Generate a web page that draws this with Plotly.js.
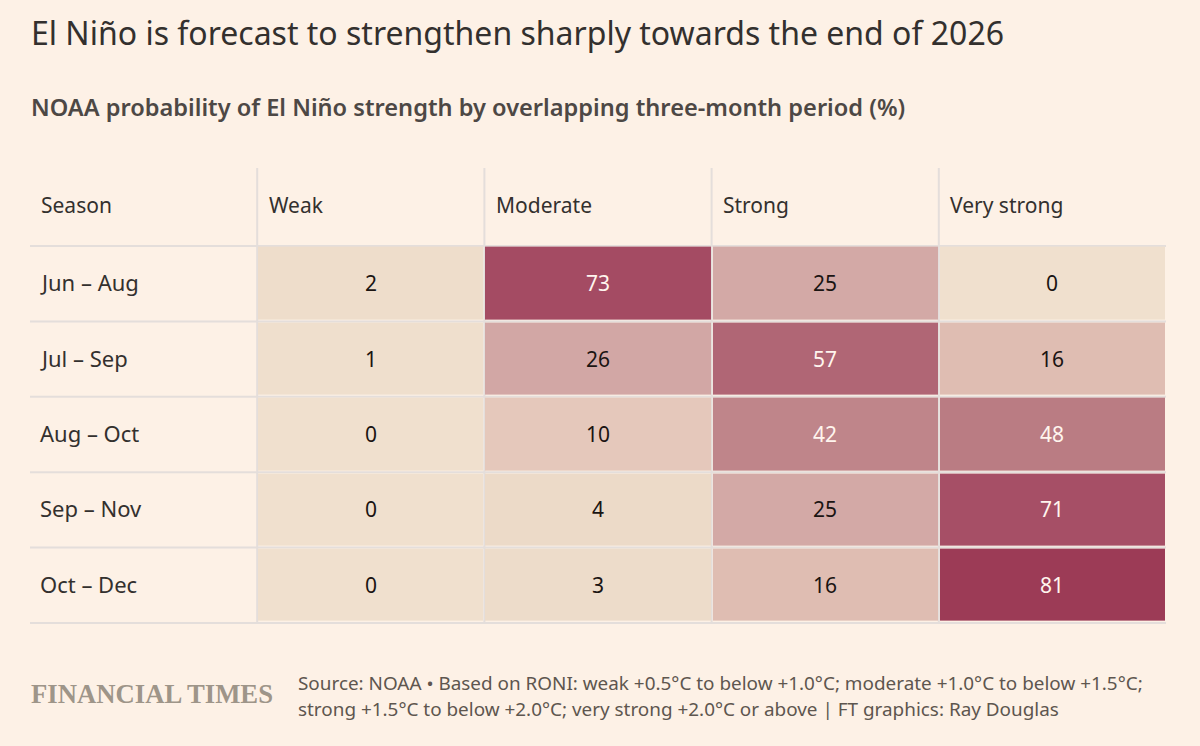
<!DOCTYPE html>
<html><head><meta charset="utf-8">
<script src="https://cdn.plot.ly/plotly-3.0.1.min.js"></script>
<style>html,body{margin:0;padding:0;background:#FDF1E6;overflow:hidden}</style></head>
<body><div id="chart" style="width:1200px;height:746px"></div>
<script>
const seasonHeader = "Season";
const strengths = ["Weak","Moderate","Strong","Very strong"];
const seasons = ["Jun – Aug","Jul – Sep","Aug – Oct","Sep – Nov","Oct – Dec"];
const weak = [2,1,0,0,0];
const moderate = [73,26,10,4,3];
const strong = [25,57,42,25,16];
const veryStrong = [0,16,48,71,81];
const titleText = "El Niño is forecast to strengthen sharply towards the end of 2026";
const subtitleText = "NOAA probability of El Niño strength by overlapping three-month period (%)";
const sourceLines = ["Source: NOAA • Based on RONI: weak +0.5°C to below +1.0°C; moderate +1.0°C to below +1.5°C;",
  "strong +1.5°C to below +2.0°C; very strong +2.0°C or above | FT graphics: Ray Douglas"];
const colorStops = [[0,"#F0E0CE"],[0.05,"#ECDAC8"],[0.125,"#E5C8BB"],[0.2,"#DFBDB2"],[0.31,"#D3A9A6"],[0.52,"#BF858A"],[0.6,"#BA7B82"],[0.7,"#B06675"],[0.88,"#A64F66"],[1,"#9C3B56"]];

const seriesByColumn = [weak,moderate,strong,veryStrong];
const z = seasons.map((_,r)=>seriesByColumn.map(c=>c[r]));
const textFont = "'Noto Sans', sans-serif";
const lineCol = "#E4DEDB";
const W=1136, H=455, cw=W/5, rh=75.4, pad=9.5;
const ann=[];
ann.push({x:seasonHeader,y:"hdr",text:seasonHeader,xanchor:"left",xshift:-cw/2+pad-1,yshift:3,showarrow:false,font:{family:textFont,size:21,color:"#33302E"}});
strengths.forEach(s=>ann.push({x:s,y:"hdr",text:s,xanchor:"left",xshift:-cw/2+pad,yshift:3,showarrow:false,font:{family:textFont,size:21,color:"#33302E"}}));
seasons.forEach((s,r)=>{
  ann.push({x:seasonHeader,y:s,text:s,xanchor:"left",xshift:-cw/2+pad-2,yshift:1.5,showarrow:false,font:{family:textFont,size:22,color:"#33302E"}});
  strengths.forEach((c,i)=>{const v=seriesByColumn[i][r];
    ann.push({x:c,y:s,text:String(v),yshift:0.5,showarrow:false,font:{family:textFont,size:21,color:v>=40?"#FFF5EE":"#1A1412"}});});
});
const paperText=(x,y,t,size,col,fam,w)=>({xref:"paper",yref:"paper",x:(x-30)/W,y:1-(y-168)/H,text:t,xanchor:"left",yanchor:"middle",showarrow:false,font:{family:fam,size:size,color:col,weight:w||400}});
ann.push(paperText(29,33,titleText,32,"#33302E",textFont));
ann.push(paperText(29,107,subtitleText,23.6,"#4D4845",textFont,600));
ann.push(paperText(29,694,"FINANCIAL TIMES",26.7,"#9E9589","'Liberation Serif', serif",700));
ann.push(paperText(296,683,sourceLines[0],18.9,"#5E564F",textFont));
ann.push(paperText(296,709,sourceLines[1],18.9,"#5E564F",textFont));
const shapes=[];
[1,2,3,4].forEach(i=>shapes.push({type:"line",layer:"below",xref:"paper",yref:"paper",x0:i/5,x1:i/5,y0:0,y1:1,line:{color:lineCol,width:2}}));
for(let i=0;i<=5;i++){const y=1-(78+i*rh)/H;
  shapes.push({type:"line",layer:"below",xref:"paper",yref:"paper",x0:0,x1:1,y0:y,y1:y,line:{color:lineCol,width:2}});}
const trace={type:"heatmap",x:strengths,y:seasons,z:z,zmin:0,zmax:81,colorscale:colorStops,showscale:false,xgap:2,ygap:3,hoverinfo:"x+y+z"};
Plotly.newPlot("chart",[trace],{
  width:1200,height:746,margin:{l:30,r:34,t:168,b:123},
  paper_bgcolor:"#FDF1E6",plot_bgcolor:"rgba(0,0,0,0)",
  xaxis:{type:"category",categoryorder:"array",categoryarray:[seasonHeader,...strengths],range:[-0.5,4.5],showticklabels:false,showgrid:false,zeroline:false,ticks:""},
  yaxis:{type:"category",categoryorder:"array",categoryarray:[...seasons].reverse().concat(["hdr"]),range:[-0.5,4.5+78/rh],showticklabels:false,showgrid:false,zeroline:false,ticks:""},
  annotations:ann,shapes:shapes,showlegend:false
},{displayModeBar:false});
</script></body></html>
